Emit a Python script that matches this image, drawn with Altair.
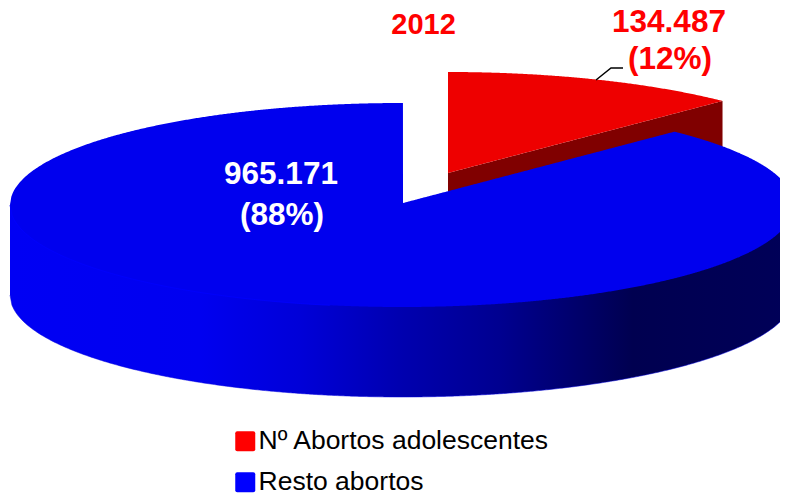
import numpy as np
import pandas as pd
import altair as alt

# ---- chart values ----
categories = ["Nº Abortos adolescentes", "Resto abortos"]
values = [134487, 965171]
value_labels = ["134.487", "965.171"]
share_labels = ["(12%)", "(88%)"]
year_label = "2012"
legend_colors = ["#ff0000", "#0000ff"]

FONT = "Liberation Sans"
W, H = 772, 485
X0, Y0 = 8, 8

# pie geometry (drawing space equals scale domain)
share = values[0] / sum(values)
theta = 2 * np.pi * share
BLUE = dict(cx=402.0, cy=205.0, a=392.0, b=102.0, ax=403.0, ay=203.0)
RED = dict(cx=448.0, cy=175.0, a=395.0, b=103.0, ax=448.0, ay=173.0)
DEPTH = 90.0
RED_DEPTH = 90.0


def top_edge(p, x):
    return p["cy"] - p["b"] * np.sqrt(np.clip(1 - ((x - p["cx"]) / p["a"]) ** 2, 0, 1))


def bottom_edge(p, x):
    return p["cy"] + p["b"] * np.sqrt(np.clip(1 - ((x - p["cx"]) / p["a"]) ** 2, 0, 1))


def corner(p):
    return p["cx"] + p["a"] * np.sin(theta), p["cy"] - p["b"] * np.cos(theta)


def cut_line(p, x):
    cx_, cy_ = corner(p)
    return p["ay"] + (cy_ - p["ay"]) * (x - p["ax"]) / (cx_ - p["ax"])


x_scale = alt.Scale(domain=[X0, X0 + W], range=[0, W], nice=False, zero=False)
y_scale = alt.Scale(domain=[Y0, Y0 + H], range=[0, H], nice=False, zero=False)
X = lambda f="x": alt.X(f"{f}:Q", scale=x_scale, axis=None)
Y = lambda f="y": alt.Y(f"{f}:Q", scale=y_scale, axis=None)
Y2 = alt.Y2("y2:Q")


def area(df, **kw):
    return alt.Chart(df).mark_area(line=False, **kw).encode(x=X(), y=Y(), y2=Y2)


# blue side wall
x_left = BLUE["cx"] - BLUE["a"]
xs = np.linspace(x_left, 788.0, 400)
wall_top = bottom_edge(BLUE, xs) - 3
wall_bot = bottom_edge(BLUE, xs) + DEPTH
wall_df = pd.DataFrame({"x": xs, "y": wall_top, "y2": wall_bot})
wall_fill = alt.Gradient(
    gradient="linear", x1=0, x2=1, y1=0, y2=0,
    stops=[
        alt.GradientStop(offset=0.0, color="#0000f4"),
        alt.GradientStop(offset=0.244, color="#0000f0"),
        alt.GradientStop(offset=0.373, color="#0000d8"),
        alt.GradientStop(offset=0.5, color="#0000b0"),
        alt.GradientStop(offset=0.63, color="#000090"),
        alt.GradientStop(offset=0.758, color="#000060"),
        alt.GradientStop(offset=0.8, color="#000050"),
        alt.GradientStop(offset=1.0, color="#000058"),
    ],
)
wall = area(wall_df, fill=wall_fill)

# rim lines
rim_bottom = alt.Chart(pd.DataFrame({"x": xs, "y": wall_bot})).mark_line(
    color="#0000e0", strokeWidth=1, opacity=0.5
).encode(x=X(), y=Y())
xs_rim = xs[xs < 330]
rim_top = alt.Chart(pd.DataFrame({"x": xs_rim, "y": bottom_edge(BLUE, xs_rim)})).mark_line(
    color="#0000ff", strokeWidth=1, opacity=0.8
).encode(x=X(), y=Y())

# red slice: cut face then top
rc_x, rc_y = corner(RED)
xr = np.linspace(RED["ax"], rc_x, 200)
red_cut = area(
    pd.DataFrame({"x": xr, "y": cut_line(RED, xr), "y2": cut_line(RED, xr) + RED_DEPTH}),
    fill="#800000",
)
red_top = area(
    pd.DataFrame({"x": xr, "y": top_edge(RED, xr), "y2": cut_line(RED, xr)}),
    fill="#ee0000",
)

# blue top face, missing the wedge of the first category
bc_x, bc_y = corner(BLUE)
x_a = np.linspace(x_left, BLUE["ax"] - 0.05, 300)
x_b = np.linspace(BLUE["ax"], bc_x, 200)
x_c = np.linspace(bc_x + 0.05, 788.0, 200)
upper = np.concatenate([top_edge(BLUE, x_a), cut_line(BLUE, x_b), top_edge(BLUE, x_c)])
x_all = np.concatenate([x_a, x_b, x_c])
blue_top = area(
    pd.DataFrame({"x": x_all, "y": upper, "y2": bottom_edge(BLUE, x_all)}),
    fill="#0000ee",
)

# leader line
leader = alt.Chart(pd.DataFrame({"x": [596, 611, 623], "y": [80, 68, 68]})).mark_line(
    color="black", strokeWidth=1.5
).encode(x=X(), y=Y())


def text(rows, color, size):
    return alt.Chart(pd.DataFrame(rows, columns=["x", "y", "t"])).mark_text(
        font=FONT, fontWeight="bold", fontSize=size, color=color, align="center", baseline="alphabetic"
    ).encode(x=X(), y=Y(), text="t:N")


red_text = text(
    [[669, 32, value_labels[0]], [670, 69, share_labels[0]]], "#ff0000", 31.5
)
year_text = text([[423.5, 34, year_label]], "#ff0000", 29)
white_text = text(
    [[281, 184, value_labels[1]], [282, 225, share_labels[1]]], "#ffffff", 31.5
)

# legend source: invisible points
rounded = (
    "M-0.8,-1 L0.8,-1 Q1,-1 1,-0.8 L1,0.8 Q1,1 0.8,1 L-0.8,1 Q-1,1 -1,0.8 "
    "L-1,-0.8 Q-1,-1 -0.8,-1 Z"
)
legend_df = pd.DataFrame({"x": [403, 403], "y": [250, 250], "c": categories})
legend_layer = alt.Chart(legend_df).mark_point(filled=True, size=0, opacity=1).encode(
    x=X(), y=Y(),
    color=alt.Color(
        "c:N",
        scale=alt.Scale(domain=categories, range=legend_colors),
        legend=alt.Legend(
            title=None,
            orient="none",
            legendX=224,
            legendY=420,
            symbolType=rounded,
            symbolSize=400,
            symbolStrokeWidth=0,
            symbolOpacity=1,
            labelFont=FONT,
            labelFontSize=26.5,
            labelColor="#000000",
            labelOffset=0,
            labelLimit=400,
            rowPadding=14,
            padding=0,
        ),
    ),
)

chart = (
    alt.layer(
        wall, rim_bottom, red_cut, red_top, blue_top, rim_top, legend_layer,
        leader, red_text, year_text, white_text,
    )
    .properties(
        width=W, height=H, padding=0, background="white",
        autosize=alt.AutoSizeParams(type="none"),
    )
    .configure_view(stroke=None)
)

chart.save("out.html", embed_options={"renderer": "svg", "actions": False})
